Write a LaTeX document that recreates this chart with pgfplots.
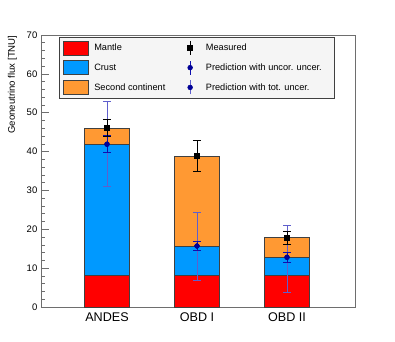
\documentclass[border=0pt]{standalone}
\usepackage{fontspec}
\setmainfont{Liberation Sans}
\usepackage{pgfplots}
\pgfplotsset{compat=1.18}
\definecolor{mred}{RGB}{255,0,0}
\definecolor{mblue}{RGB}{0,153,255}
\definecolor{morange}{RGB}{255,153,51}
\definecolor{pdot}{RGB}{0,0,150}
\definecolor{puncor}{RGB}{15,15,175}
\definecolor{ptot}{RGB}{95,95,205}
\definecolor{frame}{RGB}{110,110,110}

\begin{document}
\begin{tikzpicture}
\useasboundingbox (-41pt,-34pt) rectangle (354pt,307pt);
\begin{axis}[
    scale only axis,
    width=314pt, height=272pt,
    xmin=0.2667, xmax=3.7556,
    ymin=0, ymax=70,
    axis line style={frame, line width=0.6pt},
    xtick={1,2,3},
    xticklabels={ANDES,OBD I,OBD II},
    xtick style={draw=none},
    xticklabel style={font=\fontsize{12.6}{14}\selectfont, inner sep=0pt, yshift=-5pt},
    ytick={0,10,20,30,40,50,60,70},
    minor y tick num=4,
    ytick pos=left,
    tick align=inside,
    major tick length=8pt,
    minor tick length=4pt,
    y tick style={frame, line width=0.6pt},
    yticklabel style={font=\fontsize{9.5}{11}\selectfont, inner sep=0pt, xshift=-3.5pt,
        /pgf/number format/assume math mode=true},
    every axis y label/.style={at={(axis description cs:-0.0908,1.011)}, rotate=90, anchor=east,
        font=\fontsize{9.6}{11}\selectfont},
    ylabel={Geoneutrino flux [TNU]},
    legend columns=2,
    legend cell align=left,
    legend style={
        at={(0.0573,0.992)}, anchor=north west,
        draw=black!75, fill=gray!8, line width=0.5pt,
        font=\fontsize{9.2}{11}\selectfont,
        row sep=5pt, inner xsep=4pt, inner ysep=3pt,
        nodes={inner sep=1.5pt},
        /tikz/every even column/.append style={column sep=18pt}
    },
]
% stacked contributions (cumulative tops)
\addplot[ybar, bar width=45.5pt, bar shift=0pt, fill=morange, draw=black!75, line width=0.6pt, forget plot]
    coordinates {(1,46.0) (2,38.8) (3,17.9)};
\addplot[ybar, bar width=45.5pt, bar shift=0pt, fill=mblue, draw=black!75, line width=0.6pt, forget plot]
    coordinates {(1,41.9) (2,15.6) (3,12.8)};
\addplot[ybar, bar width=45.5pt, bar shift=0pt, fill=mred, draw=black!75, line width=0.6pt, forget plot]
    coordinates {(1,8.2) (2,8.2) (3,8.2)};

% prediction, total uncertainty
\addplot[only marks, mark=*, mark size=2.4pt, mark options={pdot}, forget plot,
    error bars/.cd, y dir=both, y explicit,
    error bar style={ptot, line width=0.9pt},
    error mark options={rotate=90, ptot, mark size=4pt, line width=0.9pt}]
    coordinates {(1,41.9) += (0,11.1) -= (0,10.8)
                 (2,15.7) += (0,8.6) -= (0,8.8)
                 (3,12.8) += (0,8.1) -= (0,9.0)};
% prediction, uncorrelated uncertainty
\addplot[only marks, mark=*, mark size=2.4pt, mark options={pdot}, forget plot,
    error bars/.cd, y dir=both, y explicit,
    error bar style={puncor, line width=0.9pt},
    error mark options={rotate=90, puncor, mark size=4pt, line width=0.9pt}]
    coordinates {(1,41.9) +- (0,2.2) (2,15.7) +- (0,1.1) (3,12.8) +- (0,1.3)};
% measured
\addplot[only marks, mark=square*, mark size=2.4pt, mark options={black}, forget plot,
    error bars/.cd, y dir=both, y explicit,
    error bar style={black, line width=0.9pt},
    error mark options={rotate=90, black, mark size=4pt, line width=0.9pt}]
    coordinates {(1,46.1) +- (0,2.2) (2,38.9) +- (0,3.9) (3,17.8) +- (0,1.7)};

% legend
\addlegendimage{legend image code/.code={\draw[fill=mred, draw=black!75, line width=0.6pt] (0pt,-7pt) rectangle (25pt,7pt); \path (29pt,0pt);}}
\addlegendentry{Mantle}
\addlegendimage{legend image code/.code={\path (0pt,0pt) (19pt,0pt); \draw[black, line width=0.8pt] (5pt,-7pt)--(5pt,7pt); \fill[black] (2.6pt,-2.4pt) rectangle (7.4pt,2.4pt);}}
\addlegendentry{Measured}
\addlegendimage{legend image code/.code={\draw[fill=mblue, draw=black!75, line width=0.6pt] (0pt,-7pt) rectangle (25pt,7pt); \path (29pt,0pt);}}
\addlegendentry{Crust}
\addlegendimage{legend image code/.code={\path (0pt,0pt) (19pt,0pt); \draw[puncor, line width=0.8pt] (5pt,-7pt)--(5pt,7pt); \fill[pdot] (5pt,0pt) circle (2.4pt);}}
\addlegendentry{Prediction with uncor. uncer.\kern7pt}
\addlegendimage{legend image code/.code={\draw[fill=morange, draw=black!75, line width=0.6pt] (0pt,-7pt) rectangle (25pt,7pt); \path (29pt,0pt);}}
\addlegendentry{Second continent}
\addlegendimage{legend image code/.code={\path (0pt,0pt) (19pt,0pt); \draw[ptot, line width=0.8pt] (5pt,-7pt)--(5pt,7pt); \fill[pdot] (5pt,0pt) circle (2.4pt);}}
\addlegendentry{Prediction with tot. uncer.}
\end{axis}
\end{tikzpicture}
\end{document}
